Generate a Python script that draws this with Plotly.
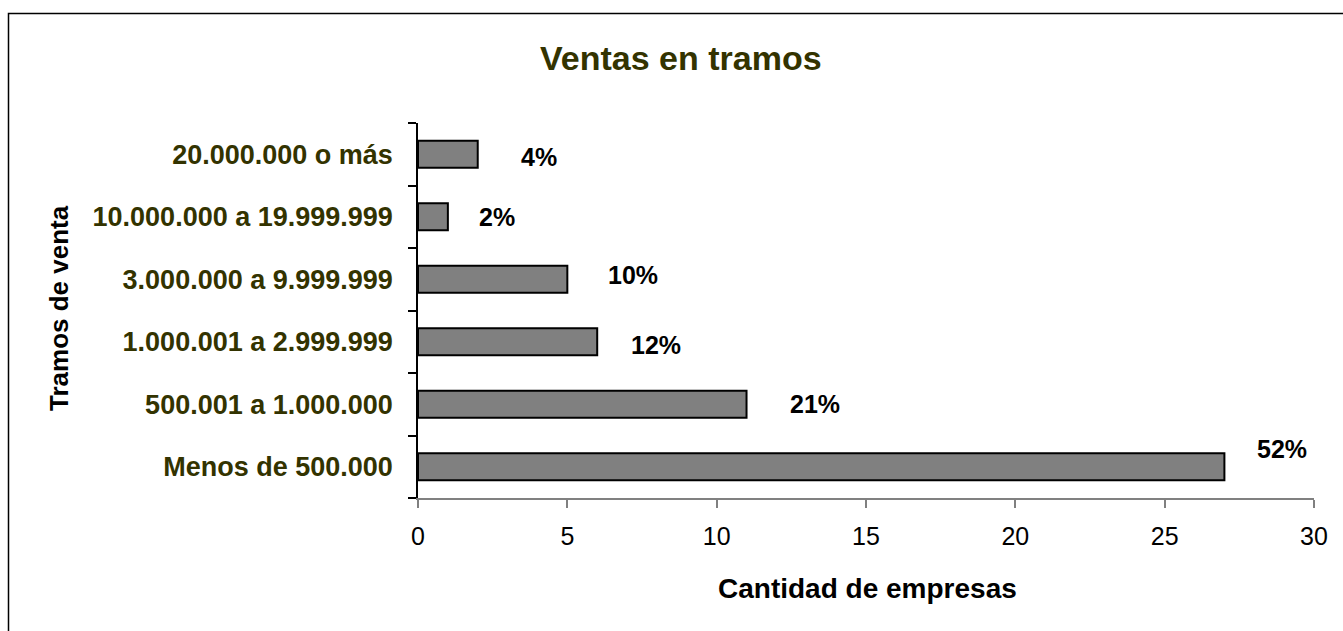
import plotly.graph_objects as go

# ---- data ----
categories = ["Menos de 500.000", "500.001 a 1.000.000", "1.000.001 a 2.999.999",
              "3.000.000 a 9.999.999", "10.000.000 a 19.999.999", "20.000.000 o más"]
empresas = [27, 11, 6, 5, 1, 2]
porcentajes = ["52%", "21%", "12%", "10%", "2%", "4%"]
x_ticks = [0, 5, 10, 15, 20, 25, 30]

# ---- label placement (style, pixel offsets) ----
label_xshift = [31, 41, 32, 39, 29, 41]
label_yshift = [18, 0, -3, 4, 0, -3]

W, H = 1343, 631
L, R, T, B = 418, 29, 123, 133
pw, ph = W - L - R, H - T - B

def px(xp):
    return (xp - L) / pw

def py(yp):
    return (H - B - yp) / ph

FONT = "Liberation Sans, Arial, sans-serif"
OLIVE = "#333300"

fig = go.Figure()
fig.add_trace(go.Bar(
    x=empresas, y=categories, orientation="h",
    marker=dict(color="#808080", line=dict(color="black", width=2)),
    width=0.43, hoverinfo="skip",
))

annotations = []
for c, v, t, dx, dy in zip(categories, empresas, porcentajes, label_xshift, label_yshift):
    annotations.append(dict(x=v, y=c, xref="x", yref="y", text="<b>%s</b>" % t,
                            showarrow=False, xanchor="left", yanchor="middle",
                            xshift=dx, yshift=dy,
                            font=dict(family=FONT, size=25, color="black")))

annotations += [
    dict(x=px(681), y=py(58), xref="paper", yref="paper", text="<b>Ventas en tramos</b>",
         showarrow=False, xanchor="center", yanchor="middle",
         font=dict(family=FONT, size=34, color=OLIVE)),
    dict(x=px(867), y=py(588), xref="paper", yref="paper", text="<b>Cantidad de empresas</b>",
         showarrow=False, xanchor="center", yanchor="middle",
         font=dict(family=FONT, size=28, color="black")),
    dict(x=px(59), y=py(308), xref="paper", yref="paper", text="<b>Tramos de venta</b>",
         showarrow=False, xanchor="center", yanchor="middle", textangle=-90,
         font=dict(family=FONT, size=26, color="black")),
]

fig.update_layout(
    width=W, height=H,
    margin=dict(l=L, r=R, t=T, b=B, autoexpand=False),
    paper_bgcolor="white", plot_bgcolor="white",
    showlegend=False,
    annotations=annotations,
    shapes=[dict(type="rect", xref="paper", yref="paper",
                 x0=px(8.5), x1=1.2, y0=-0.8, y1=py(13.5),
                 line=dict(color="black", width=1.5), fillcolor="rgba(0,0,0,0)", layer="below")],
    xaxis=dict(range=[0, 30], tickvals=x_ticks, ticks="outside", ticklen=8,
               tickcolor="#808080", tickwidth=1.5, showline=True, linecolor="#808080",
               linewidth=2, showgrid=False, zeroline=False,
               tickfont=dict(family=FONT, size=25, color="black"),
               ticklabelstandoff=7, fixedrange=True),
    yaxis=dict(categoryorder="array", categoryarray=categories,
               range=[-0.5, 5.5], ticks="outside", ticklen=8, tickcolor="black",
               tickwidth=1.5, tickson="boundaries", showline=True, linecolor="black",
               linewidth=1.5, showgrid=False, zeroline=False,
               tickfont=dict(family=FONT, size=27, color=OLIVE, weight="bold"),
               ticklabelstandoff=18, fixedrange=True),
)

fig.write_html("out.html", config={"displayModeBar": False},
               post_script="document.body.style.margin='0';document.body.style.overflow='hidden';")
